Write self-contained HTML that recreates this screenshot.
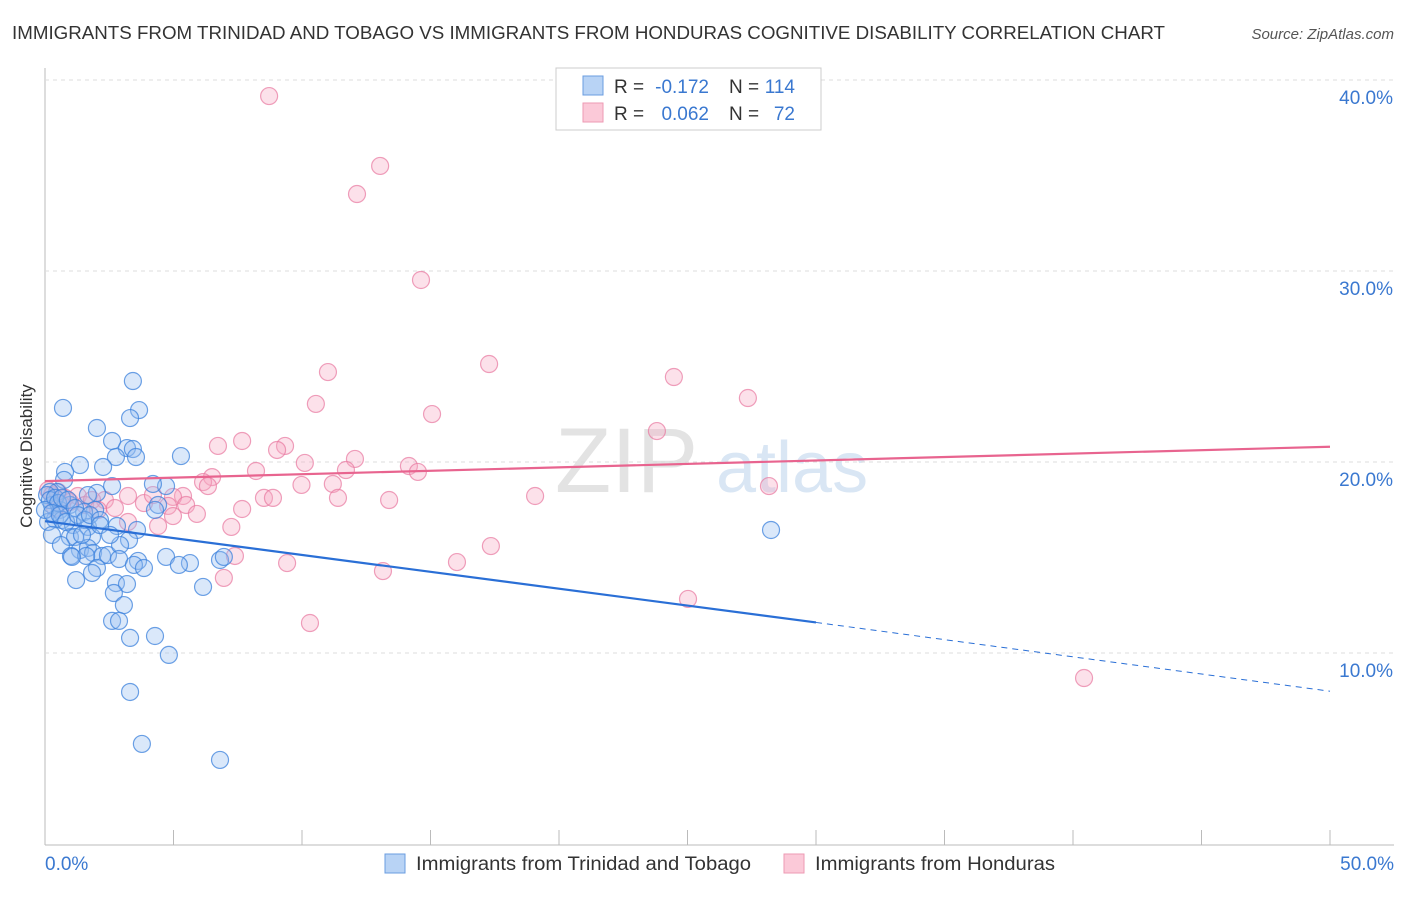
<!DOCTYPE html>
<html><head><meta charset="utf-8"><style>
body{margin:0;background:#fff;font-family:"Liberation Sans",sans-serif;}
svg text{font-family:"Liberation Sans",sans-serif;}
</style></head><body>
<svg id="chart" width="1406" height="892">
<text x="12" y="39" font-size="18" fill="#333" textLength="1153" lengthAdjust="spacingAndGlyphs">IMMIGRANTS FROM TRINIDAD AND TOBAGO VS IMMIGRANTS FROM HONDURAS COGNITIVE DISABILITY CORRELATION CHART</text>
<text x="1394" y="39" font-size="15" fill="#555" font-style="italic" text-anchor="end">Source: ZipAtlas.com</text>
<text x="32" y="456" font-size="17" fill="#333" text-anchor="middle" transform="rotate(-90 32 456)">Cognitive Disability</text>
<g><text x="555" y="492" font-size="92" fill="#ddd" font-family="Liberation Serif" opacity="0.8">ZIP</text><text x="716" y="492" font-size="72" fill="#c9dcf0" opacity="0.7">atlas</text></g>
<g id="grid"></g><g id="marks"></g>
<g>
<rect x="556" y="68" width="265" height="62" fill="#fff" stroke="#ccc"/>
<rect x="583" y="76" width="20" height="19" fill="#b8d3f5" stroke="#6a9de0"/>
<rect x="583" y="103" width="20" height="19" fill="#fbc9d8" stroke="#ee9ab3"/>
<text x="614" y="93" font-size="19" fill="#333">R =</text>
<text x="709" y="93" font-size="19" fill="#3a78d0" text-anchor="end">-0.172</text>
<text x="729" y="93" font-size="19" fill="#333">N =</text>
<text x="795" y="93" font-size="19" fill="#3a78d0" text-anchor="end">114</text>
<text x="614" y="120" font-size="19" fill="#333">R =</text>
<text x="709" y="120" font-size="19" fill="#3a78d0" text-anchor="end">0.062</text>
<text x="729" y="120" font-size="19" fill="#333">N =</text>
<text x="795" y="120" font-size="19" fill="#3a78d0" text-anchor="end">72</text>
</g>
<g>
<rect x="385" y="854" width="20" height="19" fill="#b8d3f5" stroke="#6a9de0"/>
<text x="416" y="870" font-size="19" fill="#333" textLength="335" lengthAdjust="spacingAndGlyphs">Immigrants from Trinidad and Tobago</text>
<rect x="784" y="854" width="20" height="19" fill="#fbc9d8" stroke="#ee9ab3"/>
<text x="815" y="870" font-size="19" fill="#333" textLength="240" lengthAdjust="spacingAndGlyphs">Immigrants from Honduras</text>
</g>
</svg>
<script>
const yTicks=[10,20,30,40];
const yTickLabels=["10.0%","20.0%","30.0%","40.0%"];
const xTickLabels=["0.0%","50.0%"];
const blueX=[3.42,0.70,3.66,3.31,2.02,2.61,3.19,3.42,2.76,3.54,5.29,1.36,2.26,0.78,0.74,4.71,4.20,2.61,2.02,1.67,0.47,0.19,0.27,0.97,0.58,4.40,4.28,1.95,1.52,0.39,0.12,0.66,1.09,1.67,2.80,3.58,0.27,0.97,1.17,1.83,3.27,0.62,1.36,1.67,1.87,2.22,2.45,1.01,1.60,2.92,4.71,3.62,6.81,6.96,1.05,2.88,5.64,5.21,3.46,3.85,2.02,1.83,1.21,2.76,3.19,6.15,2.68,3.07,2.61,2.88,3.31,4.28,4.82,3.31,3.77,6.81,28.25,0.08,0.19,0.39,0.51,0.66,0.89,1.17,0.0,0.27,0.58,0.82,1.28,1.56,1.75,2.14,1.44,2.14,2.53];
const blueY=[24.24,22.83,22.72,22.30,21.78,21.10,20.73,20.68,20.26,20.26,20.31,19.84,19.74,19.48,19.06,18.74,18.85,18.74,18.38,18.27,18.43,18.43,17.75,17.75,17.49,17.75,17.49,17.49,17.38,17.0,16.86,16.96,16.70,16.60,16.65,16.44,16.18,16.07,16.07,16.07,15.92,15.65,15.39,15.50,15.24,15.08,15.13,15.08,15.08,15.65,15.03,14.82,14.87,15.03,15.03,14.92,14.71,14.61,14.61,14.45,14.45,14.19,13.82,13.66,13.61,13.46,13.14,12.51,11.68,11.68,10.79,10.89,9.90,7.96,5.24,4.40,16.44,18.27,18.01,18.12,17.85,18.12,18.01,17.59,17.49,17.33,17.22,16.86,17.22,16.96,17.22,16.96,16.18,16.70,16.18];
const pinkX=[8.72,13.04,12.14,14.63,17.28,11.01,24.47,27.35,10.54,15.06,23.81,7.67,6.73,9.34,9.03,12.06,10.11,14.16,11.71,14.51,8.21,6.50,6.15,6.34,9.98,11.20,28.17,5.37,3.23,8.52,8.87,11.40,13.39,19.07,4.98,3.85,4.20,2.33,2.72,4.79,5.49,7.67,5.91,4.98,4.40,3.23,7.25,7.39,17.35,9.42,16.03,13.15,6.96,25.02,10.31,40.43,0.12,0.27,0.51,0.78,0.97,1.28,1.56,1.83,2.06,0.66,0.39];
const pinkY=[39.16,35.50,34.03,29.53,25.13,24.71,24.45,23.35,23.04,22.51,21.62,21.10,20.84,20.84,20.63,20.16,19.95,19.79,19.58,19.48,19.53,19.21,18.95,18.74,18.80,18.85,18.74,18.22,18.22,18.12,18.12,18.12,18.01,18.22,18.17,17.85,18.27,18.01,17.59,17.70,17.75,17.54,17.28,17.17,16.65,16.86,16.60,15.08,15.60,14.71,14.76,14.29,13.93,12.83,11.57,8.69,18.53,18.27,18.43,18.12,17.91,18.22,17.75,18.01,17.49,17.75,17.59];
const blueTrend=[16.9,11.6,8.0]; const blueTrendX=[0,30,50];
const pinkTrend=[19.0,20.8]; const pinkTrendX=[0,50];
const X=v=>45+v*25.7, Y=v=>844-v*19.1;
const NS="http://www.w3.org/2000/svg";
const grid=document.getElementById('grid'), marks=document.getElementById('marks');
function mk(p,tag,a){const e=document.createElementNS(NS,tag);for(const k in a)e.setAttribute(k,a[k]);p.appendChild(e);return e;}
let ax=mk(grid,'line',{x1:45,y1:68,x2:45,y2:845,stroke:'#bbb'});


let bx=mk(grid,'line',{x1:45,y1:845,x2:1394,y2:845,stroke:'#bbb'});


yTicks.forEach((t,i)=>{
 let g=mk(grid,'line',{x1:45,x2:1394,y1:Y(t),y2:Y(t),stroke:'#ddd','stroke-dasharray':'4,4'});
 
 
 let l=mk(grid,'text',{x:1393,y:Y(t)+24,'font-size':19,fill:'#3a78d0','text-anchor':'end'});l.textContent=yTickLabels[i];
 
 
});
for(let i=0;i<=10;i++){let t=mk(grid,'line',{x1:X(i*5),x2:X(i*5),y1:830,y2:845,stroke:'#bbb'});
 
 }
[[0,'start',45],[50,'end',1394]].forEach((d,i)=>{let l=mk(grid,'text',{x:d[2],y:870,'font-size':19,fill:'#3a78d0','text-anchor':d[1]});l.textContent=xTickLabels[i];
 
 });
pinkX.forEach((v,i)=>{let c=mk(marks,'circle',{cx:X(v),cy:Y(pinkY[i]),r:8.5,fill:'rgba(246,170,195,0.35)',stroke:'rgba(232,120,160,0.7)','stroke-width':1.2});
 
 });
blueX.forEach((v,i)=>{let c=mk(marks,'circle',{cx:X(v),cy:Y(blueY[i]),r:8.5,fill:'rgba(150,190,240,0.35)',stroke:'rgba(60,130,220,0.75)','stroke-width':1.2});
 
 });
let bt=mk(marks,'line',{x1:X(blueTrendX[0]),y1:Y(blueTrend[0]),x2:X(blueTrendX[1]),y2:Y(blueTrend[1]),stroke:'#2a6fd6','stroke-width':2.2});


let bd=mk(marks,'line',{x1:X(blueTrendX[1]),y1:Y(blueTrend[1]),x2:X(blueTrendX[2]),y2:Y(blueTrend[2]),stroke:'#2a6fd6','stroke-width':1,'stroke-dasharray':'6,5'});


let pt=mk(marks,'line',{x1:X(pinkTrendX[0]),y1:Y(pinkTrend[0]),x2:X(pinkTrendX[1]),y2:Y(pinkTrend[1]),stroke:'#e8648f','stroke-width':2.2});


</script>
</body></html>
